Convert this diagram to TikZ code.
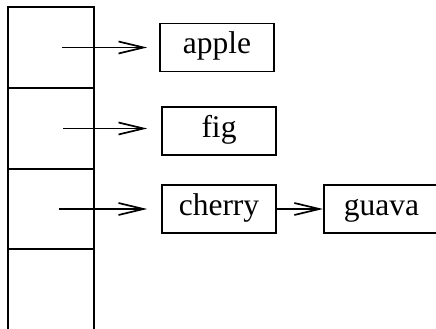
\documentclass[tikz,border=0pt]{standalone}
\usepackage{fontspec}
\setmainfont{Liberation Serif}
\usetikzlibrary{arrows.meta}
\begin{document}
\begin{tikzpicture}[x=1pt,y=-1pt,line width=1.7pt,
  cell/.style={draw,rectangle,minimum width=86pt,minimum height=81pt,inner sep=0pt,outer sep=0pt},
  item/.style={draw,rectangle,minimum width=114pt,minimum height=48pt,inner sep=0pt,
    text height=20pt,text depth=8pt,font=\fontsize{31.5}{36}\selectfont},
  ptr/.style={-{Straight Barb[length=25pt,width=12pt]}}]
\useasboundingbox (0,0) rectangle (436,329);
\node[cell] (c1) at (51,47.5) {};
\node[cell] (c2) at (51,128.5) {};
\node[cell] (c3) at (51,209) {};
\node[cell,minimum height=90pt] (c4) at (51,294) {};
\coordinate (p1) at (62,47.5);
\coordinate (p2) at (63,128.5);
\coordinate (p3) at (59,209);
\node[item] (apple) at (217,47.5) {apple};
\node[item] (fig) at (219,131) {fig};
\node[item] (cherry) at (219,209) {cherry};
\node[item,anchor=west,text width=110pt,align=left,inner xsep=20pt] (guava) at (323,209) {guava};
\draw[ptr,shorten >=12pt] (p1) -- (p1 -| apple.west);
\draw[ptr,shorten >=14pt] (p2) -- (p2 -| fig.west);
\draw[ptr,shorten >=14pt] (p3) -- (cherry.west);
\draw[ptr] (cherry.east) -- (guava.west);
\end{tikzpicture}
\end{document}
